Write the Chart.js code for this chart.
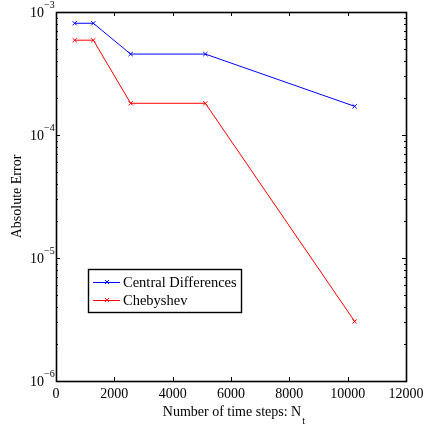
<!DOCTYPE html>
<html>
<head>
<meta charset="utf-8">
<style>
  html, body { margin: 0; padding: 0; background: #fff; }
  #wrap { width: 424px; height: 431px; }
</style>
<script src="https://cdn.jsdelivr.net/npm/chart.js@4/dist/chart.umd.min.js"></script>
</head>
<body>
<div id="wrap"><canvas id="errChart" width="424" height="431"></canvas></div>
<script>
const timeSteps = [640, 1280, 2560, 5120, 10240];
const centralDiff = [8.1e-4, 8.1e-4, 4.55e-4, 4.55e-4, 1.71e-4];
const chebyshev = [5.9e-4, 5.9e-4, 1.81e-4, 1.81e-4, 3.05e-6];
const xTicks = [0, 2000, 4000, 6000, 8000, 10000, 12000];
const yExponents = [-3, -4, -5, -6];
const seriesNames = ['Central Differences', 'Chebyshev'];

const FONT = '"Liberation Serif", "DejaVu Serif", serif';

// axes, ticks, labels and legend drawn by hand (matlab style box)
const framePlugin = {
  id: 'frame',
  afterDraw(chart) {
    const ctx = chart.ctx;
    const { left, right, top, bottom } = chart.chartArea;
    const xs = chart.scales.x, ys = chart.scales.y;
    ctx.save();
    ctx.strokeStyle = '#000';
    ctx.lineWidth = 1.6;
    ctx.strokeRect(left + 0.5, top + 0.5, right - left, bottom - top);
    ctx.lineWidth = 1;

    ctx.beginPath();
    xTicks.forEach(v => {
      const px = Math.round(xs.getPixelForValue(v)) + 0.5;
      ctx.moveTo(px, bottom); ctx.lineTo(px, bottom - 4);
      ctx.moveTo(px, top); ctx.lineTo(px, top + 4);
    });
    for (let e = -6; e < -3; e++) {
      for (let m = 1; m <= 9; m++) {
        const len = m === 1 ? 4 : 2;
        const py = Math.round(ys.getPixelForValue(m * Math.pow(10, e))) + 0.5;
        ctx.moveTo(left, py); ctx.lineTo(left + len, py);
        ctx.moveTo(right, py); ctx.lineTo(right - len, py);
      }
    }
    ctx.stroke();

    ctx.fillStyle = '#000';
    ctx.font = '14px ' + FONT;
    ctx.textAlign = 'center';
    ctx.textBaseline = 'top';
    xTicks.forEach(v => {
      ctx.fillText(String(v), xs.getPixelForValue(v), bottom + 6);
    });

    yExponents.forEach(e => {
      const py = ys.getPixelForValue(Math.pow(10, e));
      ctx.font = '14px ' + FONT;
      ctx.textAlign = 'right';
      ctx.textBaseline = 'middle';
      ctx.fillText('10', left - 12, py + 1);
      ctx.font = '10px ' + FONT;
      ctx.textAlign = 'left';
      ctx.fillText('\u2212' + Math.abs(e), left - 12, py - 7);
    });

    // x title
    ctx.font = '14px ' + FONT;
    ctx.textAlign = 'center';
    ctx.textBaseline = 'top';
    const title = 'Number of time steps: N';
    const cx = (left + right) / 2 + 1;
    ctx.fillText(title, cx, bottom + 24);
    const tw = ctx.measureText(title).width;
    ctx.font = '10px ' + FONT;
    ctx.textAlign = 'left';
    ctx.fillText('t', cx + tw / 2 + 1, bottom + 35);

    // y title
    ctx.save();
    ctx.translate(17, (top + bottom) / 2);
    ctx.rotate(-Math.PI / 2);
    ctx.font = '14px ' + FONT;
    ctx.textAlign = 'center';
    ctx.textBaseline = 'middle';
    ctx.fillText('Absolute Error', 0, 0);
    ctx.restore();

    // legend box
    const lx = 88, ly = 269, lw = 153, lh = 43;
    ctx.fillStyle = '#fff';
    ctx.fillRect(lx, ly, lw, lh);
    ctx.lineWidth = 1.4;
    ctx.strokeRect(lx + 0.5, ly + 0.5, lw, lh);
    ctx.lineWidth = 1;
    chart.data.datasets.forEach((ds, i) => {
      const yy = ly + 13 + i * 18;
      ctx.strokeStyle = ds.borderColor;
      ctx.beginPath();
      ctx.moveTo(93, yy + 0.5); ctx.lineTo(120, yy + 0.5);
      ctx.moveTo(105, yy - 2); ctx.lineTo(109, yy + 2);
      ctx.moveTo(105, yy + 2); ctx.lineTo(109, yy - 2);
      ctx.stroke();
      ctx.fillStyle = '#000';
      ctx.font = '14.5px ' + FONT;
      ctx.textAlign = 'left';
      ctx.textBaseline = 'middle';
      ctx.fillText(seriesNames[i], 123, yy + 1);
    });
    ctx.restore();
  }
};

new Chart(document.querySelector('#errChart'), {
  type: 'line',
  data: {
    datasets: [
      {
        label: seriesNames[0],
        data: timeSteps.map((x, i) => ({ x, y: centralDiff[i] })),
        borderColor: '#0000ff',
        backgroundColor: '#0000ff',
        borderWidth: 1,
        pointStyle: 'crossRot',
        pointRadius: 3,
        pointBorderWidth: 1
      },
      {
        label: seriesNames[1],
        data: timeSteps.map((x, i) => ({ x, y: chebyshev[i] })),
        borderColor: '#ff0000',
        backgroundColor: '#ff0000',
        borderWidth: 1,
        pointStyle: 'crossRot',
        pointRadius: 3,
        pointBorderWidth: 1
      }
    ]
  },
  options: {
    responsive: false,
    animation: false,
    layout: { padding: { left: 56, right: 18, top: 12, bottom: 50 } },
    plugins: { legend: { display: false }, tooltip: { enabled: false } },
    scales: {
      x: { type: 'linear', min: 0, max: 12000, display: false },
      y: { type: 'logarithmic', min: 1e-6, max: 1e-3, display: false }
    }
  },
  plugins: [framePlugin]
});
</script>
</body>
</html>
